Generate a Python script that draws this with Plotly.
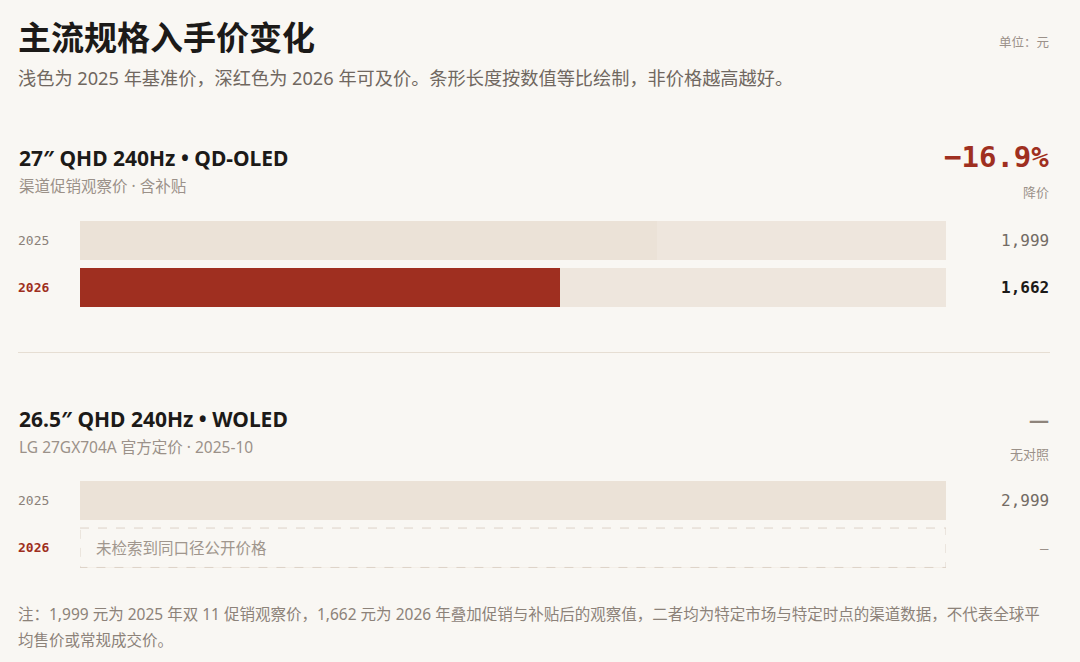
import plotly.graph_objects as go

W, H = 1080, 662

# ---- data ----
years = ["2025", "2026"]
panel_titles = ["27″ QHD 240Hz • QD-OLED", "26.5″ QHD 240Hz • WOLED"]
panel_subtitles = ["渠道促销观察价 · 含补贴", "LG 27GX704A 官方定价 · 2025-10"]
prices_qd_oled = [1999, 1662]
prices_woled = [2999, None]
missing_note = "未检索到同口径公开价格"

title = "主流规格入手价变化"
subtitle = "浅色为 2025 年基准价，深红色为 2026 年可及价。条形长度按数值等比绘制，非价格越高越好。"
unit = "单位：元"
footnote = ["注：1,999 元为 2025 年双 11 促销观察价，1,662 元为 2026 年叠加促销与补贴后的观察值，"
            "二者均为特定市场与特定时点的渠道数据，不代表全球平",
            "均售价或常规成交价。"]

BG = "#f9f7f3"
TRACK = "#eee6dd"
BASE = "#ebe2d7"
RED = "#9f2f20"
DARK = "#1c1a18"
GREY = "#9b9189"
SANS = "Noto Sans, Noto Sans CJK SC"
MONO = "DejaVu Sans Mono"


def px(x):
    return x / W


def py(y):
    return 1 - y / H


panels = [prices_qd_oled, prices_woled]
scale_max = max(v for p in panels for v in p if v is not None)
bar_w = 0.83
# vertical band (pixels) of each panel's bar pair, and header rows
bands = [(216.5, 310.5), (476.5, 571.5)]
head_y = [158, 419]

fig = go.Figure()
annotations = []
shapes = []


def note(x, y, text, size, color, anchor="left", family=SANS):
    annotations.append(dict(x=px(x), y=py(y), xref="paper", yref="paper", text=text,
                            showarrow=False, xanchor=anchor, yanchor="middle",
                            font=dict(family=family, size=size, color=color)))


for i, prices in enumerate(panels):
    xa = "x" if i == 0 else "x2"
    ya = "y" if i == 0 else "y2"
    track_x = [scale_max for _ in years]
    fig.add_trace(go.Bar(y=years, x=track_x, orientation="h", width=bar_w,
                         marker=dict(color=TRACK, line_width=0), xaxis=xa, yaxis=ya,
                         hoverinfo="skip", showlegend=False))
    cols = [BASE, RED]
    fig.add_trace(go.Bar(y=years, x=prices, orientation="h", width=bar_w,
                         marker=dict(color=cols, line_width=0), xaxis=xa, yaxis=ya,
                         showlegend=False))

    # header
    note(17, head_y[i], "<b>" + panel_titles[i] + "</b>", 21, DARK)
    note(17, head_y[i] + 28, panel_subtitles[i], 15.5, GREY)
    if all(v is not None for v in prices):
        chg = (prices[1] - prices[0]) / prices[0] * 100
        note(1051, head_y[i] - 1, "<b>" + f"{chg:.1f}%".replace("-", "−") + "</b>", 29, RED,
             anchor="right", family=MONO)
        note(1051, head_y[i] + 34, "降价" if chg < 0 else "涨价", 13, GREY, anchor="right")
    else:
        note(1051, head_y[i], "<b>—</b>", 20, "#8e847b", anchor="right")
        note(1051, head_y[i] + 35, "无对照", 13, GREY, anchor="right")

    # year labels and values
    for j, yr in enumerate(years):
        yc = bands[i][0] + (j + 0.5) * (bands[i][1] - bands[i][0]) / 2
        if j == 0:
            note(16, yc, yr, 13, "#8a8179", family=MONO)
        else:
            note(16, yc, "<b>" + yr + "</b>", 13, RED, family=MONO)
        v = prices[j]
        if v is None:
            note(1051, yc, "–", 14, GREY, anchor="right", family=MONO)
            shapes.append(dict(type="rect", xref=xa, yref=ya, x0=0, x1=scale_max,
                               y0=j - bar_w / 2, y1=j + bar_w / 2,
                               line=dict(color="#ddd3c8", width=1, dash="dash"),
                               fillcolor=BG, layer="above"))
            note(94, yc, missing_note, 15.5, "#a0968d")
        elif j == 0:
            note(1051, yc, f"{v:,}", 16, "#736b64", anchor="right", family=MONO)
        else:
            note(1051, yc, "<b>" + f"{v:,}" + "</b>", 16, DARK, anchor="right", family=MONO)

# title block
note(16, 37, "<b>" + title + "</b>", 33, DARK)
note(16, 78, subtitle, 18.2, "#70675f")
note(1051, 42, unit, 12.5, GREY, anchor="right")
note(16, 614, footnote[0], 15.5, "#8c8279")
note(16, 640, footnote[1], 15.5, "#8c8279")

shapes.append(dict(type="line", xref="paper", yref="paper", x0=px(18), x1=px(1050),
                   y0=py(352.5), y1=py(352.5), line=dict(color="#e6ded3", width=1)))

axis_x = dict(domain=[px(80), px(946)], range=[0, scale_max], visible=False, fixedrange=True)
axis_y = dict(categoryorder="array", categoryarray=years, range=[1.5, -0.5],
              visible=False, fixedrange=True)

fig.update_layout(
    width=W, height=H,
    margin=dict(l=0, r=0, t=0, b=0),
    paper_bgcolor=BG, plot_bgcolor=BG,
    barmode="overlay", bargap=0,
    xaxis=dict(axis_x, anchor="y"),
    yaxis=dict(axis_y, domain=[py(bands[0][1]), py(bands[0][0])], anchor="x"),
    xaxis2=dict(axis_x, anchor="y2"),
    yaxis2=dict(axis_y, domain=[py(bands[1][1]), py(bands[1][0])], anchor="x2"),
    annotations=annotations,
    shapes=shapes,
    hovermode=False,
)

fig.write_html("out.html", config={"displayModeBar": False},
               post_script="document.body.style.margin='0';")
